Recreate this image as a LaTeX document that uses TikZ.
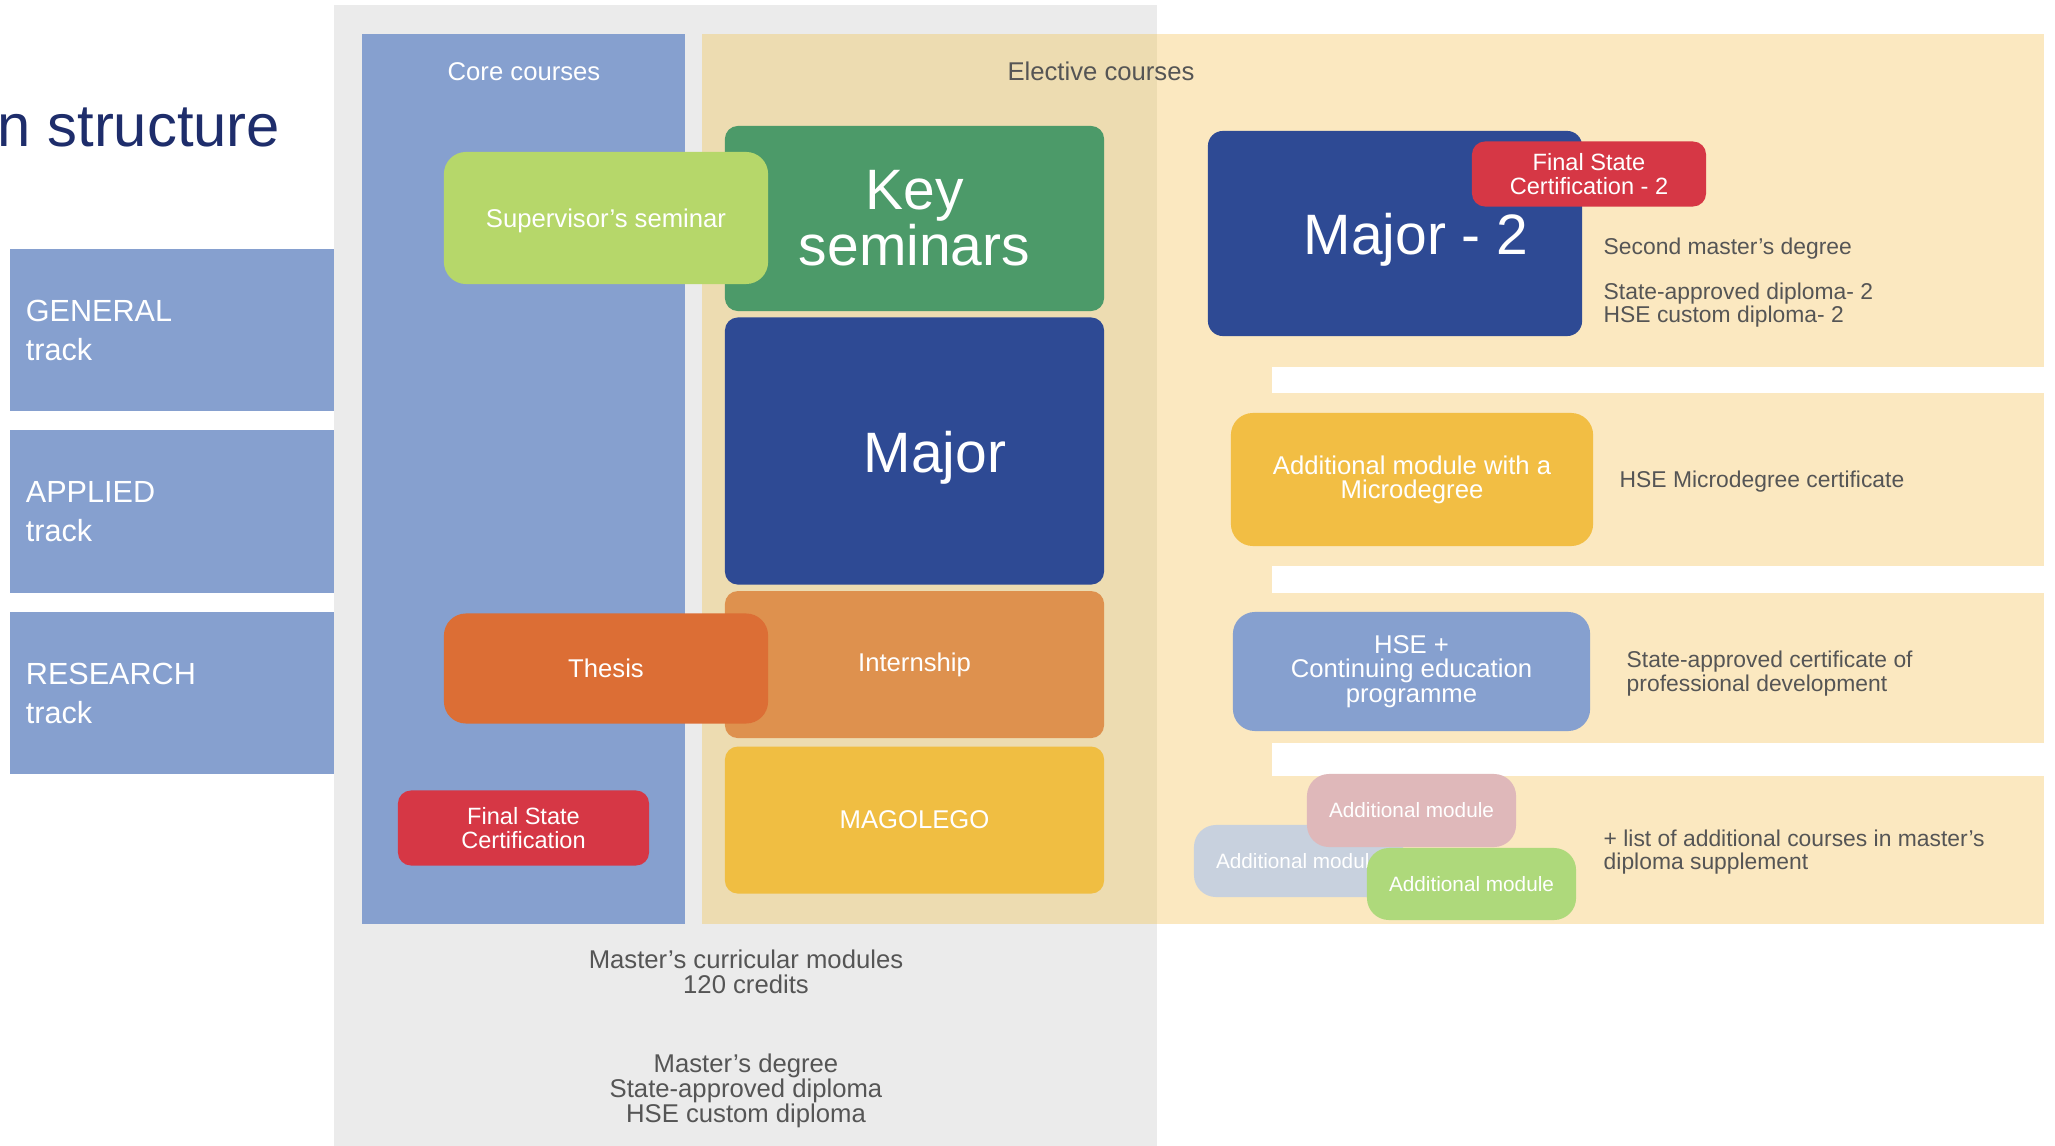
\documentclass[tikz,border=0pt]{standalone}
\usepackage{fontspec}
\setmainfont{Liberation Sans}
\usepackage{tikz}
\usetikzlibrary{positioning}
\definecolor{trackblue}{HTML}{86A0CF}
\definecolor{panelgray}{HTML}{EBEBEB}
\definecolor{electlight}{HTML}{FBE8C0}
\definecolor{electdark}{HTML}{EDDCB1}
\definecolor{supgreen}{HTML}{B6D76A}
\definecolor{keygreen}{HTML}{4C9A69}
\definecolor{majorblue}{HTML}{2E4A94}
\definecolor{internorange}{HTML}{DE914E}
\definecolor{thesisorange}{HTML}{DC6E35}
\definecolor{legoyellow}{HTML}{F0BE42}
\definecolor{fscred}{HTML}{D63745}
\definecolor{microyellow}{HTML}{F2BE44}
\definecolor{addpink}{HTML}{DFB8BA}
\definecolor{addgrey}{HTML}{C8D1DE}
\definecolor{addgreen}{HTML}{AED97B}
\definecolor{notegray}{HTML}{555555}
\definecolor{titlenavy}{HTML}{1E2D6B}

\begin{document}
\begin{tikzpicture}[x=0.01cm, y=-0.01cm,
  blk/.style={inner sep=0pt, text=white, align=center, rounded corners=0.13cm},
  softblk/.style={blk, rounded corners=0.22cm},
  trackbox/.style={fill=trackblue, text=white, inner xsep=0.16cm, inner ysep=0pt, text width=2.92cm, align=left, minimum width=3.24cm, minimum height=1.62cm, font=\fontsize{8.7}{11.1}\selectfont},
  bigtxt/.style={font=\fontsize{16.2}{15.9}\selectfont},
  midtxt/.style={font=\fontsize{7.3}{6.9}\selectfont},
  fsctxt/.style={font=\fontsize{6.7}{6.8}\selectfont},
  addtxt/.style={font=\fontsize{5.9}{6}\selectfont},
  note/.style={text=notegray, inner sep=0pt, align=left, anchor=base west, font=\fontsize{6.5}{6.6}\selectfont},
  sumtxt/.style={text=notegray, inner sep=0pt, align=center, anchor=base, font=\fontsize{7.3}{7.1}\selectfont}
]
\useasboundingbox (0,0) rectangle (2055,1146);

% background panels
\fill[panelgray] (334,5) rectangle (1157,1146);
\fill[trackblue] (362,34) rectangle (685,924);
\fill[electlight] (702,34) rectangle (1272,924);
\foreach \ya/\yb in {34/367, 393/566, 593/743, 776/924}
  \fill[electlight] (1272,\ya) rectangle (2044,\yb);
\fill[electdark] (702,34) rectangle (1157,924);

\node[text=titlenavy, anchor=base west, inner sep=0pt, font=\fontsize{17}{20}\selectfont] (title) at (-3,147) {n structure};

% tracks
\node[trackbox] (general) at (172,330) {GENERAL\\track};
\node[trackbox, below=0.18cm of general] (applied) {APPLIED\\track};
\node[trackbox, below=0.18cm of applied] (research) {RESEARCH\\track};

\node[text=white, inner sep=0pt, anchor=base, font=\fontsize{7.3}{8}\selectfont] (coretitle) at (524,81) {Core courses};
\node[text=notegray, inner sep=0pt, anchor=base, font=\fontsize{7.3}{8}\selectfont] (electtitle) at (1101,81) {Elective courses};

% elective stack
\node[blk, fill=keygreen, minimum width=3.79cm, minimum height=1.85cm, bigtxt] (keysem) at (914.5,218.5) {Key\\seminars};
\node[blk, fill=majorblue, minimum width=3.79cm, minimum height=2.67cm, below=0.05cm of keysem] (major) {};
\node[blk, fill=internorange, minimum width=3.79cm, minimum height=1.47cm, below=0.05cm of major, midtxt] (intern) {Internship};
\node[blk, fill=legoyellow, minimum width=3.79cm, minimum height=1.47cm, below=0.07cm of intern, midtxt] (magolego) {MAGOLEGO};
\node[bigtxt, text=white, anchor=base, inner sep=0pt] (majorlabel) at ([xshift=0.205cm, yshift=-0.215cm]major.center) {Major};

% core boxes
\node[softblk, fill=supgreen, minimum width=3.24cm, minimum height=1.32cm, midtxt, text depth=0pt] (supsem) at (606,218) {Supervisor’s seminar};
\node[softblk, fill=thesisorange, minimum width=3.24cm, minimum height=1.10cm, midtxt] (thesis) at (606,668.5) {Thesis};
\node[blk, fill=fscred, minimum width=2.51cm, minimum height=0.75cm, fsctxt] (fsc) at (523.5,828) {Final State\\Certification};

% second major
\node[blk, fill=majorblue, minimum width=3.74cm, minimum height=2.05cm, rounded corners=0.15cm] (major2) at (1395,233.5) {};
\node[bigtxt, text=white, anchor=base, inner sep=0pt] (major2label) at (1416,255) {Major - 2};
\node[blk, fill=fscred, minimum width=2.34cm, minimum height=0.65cm, fsctxt] (fsc2) at (1589,174) {Final State\\Certification - 2};
\node[note] (second) at (1603,255) {Second master’s degree};
\node[note] (diploma2) at (1603,323) {State-approved diploma- 2\\HSE custom diploma- 2};

% microdegree and continuing education
\node[softblk, fill=microyellow, minimum width=3.62cm, minimum height=1.33cm, midtxt] (micro) at (1412,479.5) {Additional module with a\\Microdegree};
\node[note] (microcert) at (1619,488) {HSE Microdegree certificate};
\node[softblk, fill=trackblue, minimum width=3.57cm, minimum height=1.19cm, midtxt] (hseplus) at (1411.5,671.5) {HSE +\\Continuing education\\programme};
\node[note] (profcert) at (1626,691) {State-approved certificate of\\professional development};

% additional modules
\node[softblk, fill=addgrey, minimum width=2.09cm, minimum height=0.72cm, addtxt] (addone) at (1298.5,861) {Additional module};
\node[softblk, fill=addpink, minimum width=2.09cm, minimum height=0.73cm, addtxt] (addtwo) at (1411.5,810.5) {Additional module};
\node[softblk, fill=addgreen, minimum width=2.09cm, minimum height=0.72cm, addtxt] (addthree) at (1471.5,884) {Additional module};
\node[note, font=\fontsize{6.5}{6.3}\selectfont] (supplement) at (1603,869) {+ list of additional courses in master’s\\diploma supplement};

% summary
\node[sumtxt] (credits) at (746,993) {Master’s curricular modules\\120 credits};
\node[sumtxt] (degree) at (746,1122) {Master’s degree\\State-approved diploma\\HSE custom diploma};
\end{tikzpicture}
\end{document}
